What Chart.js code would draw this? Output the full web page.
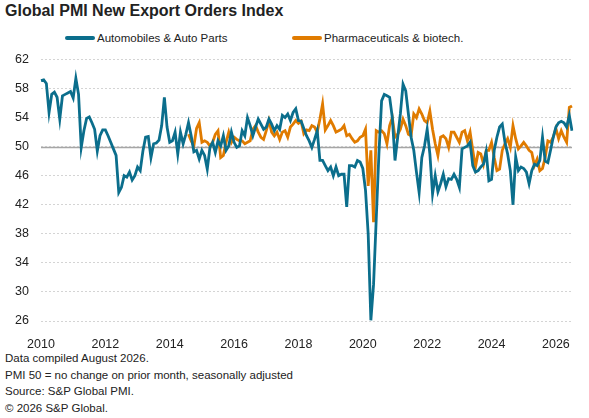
<!DOCTYPE html>
<html>
<head>
<meta charset="utf-8">
<title>Global PMI New Export Orders Index</title>
<script src="https://cdn.jsdelivr.net/npm/chart.js@4.4.1/dist/chart.umd.min.js"></script>
<style>
  body { margin: 0; width: 589px; height: 418px; background: #fff; position: relative; overflow: hidden;
         font-family: "Liberation Sans", Arial, sans-serif; color: #222; }
  #title { position: absolute; left: 5px; top: 1px; font-size: 16px; line-height: 20px; font-weight: bold; }
  .legend-item { position: absolute; top: 31px; font-size: 11.5px; line-height: 14px; display: flex; align-items: center; }
  .swatch { width: 30px; height: 4px; border-radius: 2px; margin-right: 2px; }
  #chartBox { position: absolute; left: 0; top: 40px; }
  #notes { position: absolute; left: 5px; top: 350px; font-size: 11.5px; line-height: 16.5px; }
</style>
</head>
<body>
<div id="title">Global PMI New Export Orders Index</div>
<div class="legend-item" style="left:65px"><span class="swatch" style="background:#0b6e8c"></span>Automobiles &amp; Auto Parts</div>
<div class="legend-item" style="left:292px"><span class="swatch" style="background:#e07b00"></span>Pharmaceuticals &amp; biotech.</div>
<div id="chartBox"><canvas id="pmiChart" width="589" height="310"></canvas></div>
<div id="notes">
  Data compiled August 2026.<br>
  PMI 50 = no change on prior month, seasonally adjusted<br>
  Source: S&amp;P Global PMI.<br>
  © 2026 S&amp;P Global.
</div>
<script>
// --- DATA (monthly, Jan 2010 - Jul 2026) ---
const startYear = 2010;
const tickYears = [2010, 2012, 2014, 2016, 2018, 2020, 2022, 2024, 2026];
const yTicks = [26, 30, 34, 38, 42, 46, 50, 54, 58, 62];
const noChangeLevel = 50;

const autos = [
  59.1, 59.2, 58.7, 54.7, 57.2, 57.5, 56.8, 53.8, 57.0, 57.2, 57.4, 57.6,
  56.7, 59.4, 57.2, 49.9, 52.2, 53.9, 54.1, 53.3, 52.4, 49.4, 51.5, 52.3,
  52.3, 51.5, 50.6, 49.7, 48.8, 43.7, 44.4, 46.0, 45.8, 46.5, 45.4, 46.0,
  47.2, 46.7, 49.4, 51.3, 51.4, 48.5, 50.4, 50.5, 50.9, 52.9, 56.8, 52.7,
  50.6, 50.8, 52.0, 49.0, 52.0, 50.4, 51.7, 53.3, 51.5, 49.3, 49.5, 48.3,
  49.5, 48.8, 46.9, 49.9, 50.6, 49.2, 50.8, 50.1, 51.5, 49.5, 50.1, 52.0,
  50.6, 49.9, 50.1, 52.2, 51.5, 54.0, 52.9, 51.5, 52.7, 53.8, 53.1, 52.4,
  52.7, 53.8, 53.1, 52.2, 52.9, 52.4, 54.3, 54.0, 54.5, 53.6, 54.7, 55.2,
  53.6, 53.5, 52.5, 51.5, 50.8, 49.9, 51.0, 52.2, 48.1, 48.1, 47.4, 46.7,
  47.2, 46.0, 47.2, 46.0, 46.2, 46.2, 41.7, 47.4, 47.4, 47.2, 48.1, 47.9,
  47.0, 44.0, 38.0, 26.1, 31.0, 40.0, 49.0, 56.3, 57.2, 57.0, 56.8, 54.0,
  48.1, 51.3, 54.5, 58.6, 57.7, 54.5, 51.3, 49.5, 46.5, 43.7, 48.5, 50.1,
  52.4, 49.0, 43.5, 46.0, 43.8, 44.9, 46.2, 44.5, 45.6, 45.5, 46.2, 45.5,
  44.4, 49.7, 49.9, 50.1, 50.6, 47.4, 46.5, 46.7, 47.2, 47.6, 49.3, 45.3,
  45.5, 49.5, 51.3, 52.7, 53.1, 50.6, 49.0, 46.7, 42.0, 48.6, 46.7, 47.2,
  47.0, 46.5, 44.9, 46.7, 47.6, 47.4, 48.1, 51.3, 48.0, 47.8, 49.5, 51.3,
  52.7, 53.3, 53.5, 53.3, 52.7, 54.3, 52.2
];

// pharma series starts Aug 2014
const pharmaStart = 55;
const pharma = [
  51.7, 50.8, 50.1, 52.5, 53.3,
  50.6, 50.8, 50.6, 50.1, 50.6, 51.7, 52.2, 48.5, 48.8, 50.6, 52.0, 50.6,
  51.3, 51.0, 50.8, 50.8, 50.4, 50.6, 50.8, 52.4, 52.9, 52.0, 51.3, 51.0,
  52.2, 53.6, 52.0, 51.5, 52.0, 51.0, 52.0, 52.2, 51.3, 52.7, 53.1, 53.6,
  53.2, 53.5, 51.8, 52.3, 52.2, 52.9, 52.7, 52.0, 53.8, 55.9, 52.3, 52.9,
  53.6, 52.9, 52.0, 52.2, 52.4, 52.9, 51.5, 51.7, 51.1, 50.6, 50.8, 51.3,
  51.5, 52.4, 44.6, 49.5, 39.6, 52.2, 52.0, 52.2, 51.8, 50.4, 52.9, 54.0,
  51.3, 51.7, 52.4, 53.8, 52.9, 51.7, 51.5, 54.5, 54.0, 55.2, 54.5, 53.6,
  53.3, 54.9, 52.4, 50.4, 48.8, 51.3, 51.5, 51.1, 49.9, 52.0, 52.0, 51.3,
  50.6, 52.0, 52.2, 50.8, 52.0, 49.5, 47.2, 49.2, 49.0, 47.6, 49.5, 49.5,
  50.6, 48.5, 46.7, 46.9, 49.5, 50.4, 51.1, 49.9, 52.9, 51.1, 49.7, 50.1,
  50.6, 50.1, 49.5, 49.2, 47.4, 48.3, 46.7, 47.0, 48.5, 50.8, 50.6, 51.3,
  52.5, 51.1, 52.2, 51.3, 50.6, 55.4, 55.6
];

// month labels "YYYY-MM"
const months = autos.map((_, i) => {
    const y = startYear + Math.floor(i / 12);
    const m = (i % 12) + 1;
    return y + '-' + String(m).padStart(2, '0');
});
const pharmaFull = months.map((_, i) => i >= pharmaStart ? pharma[i - pharmaStart] : null);

// solid grey line at PMI 50, under the series
const noChangeLine = {
    id: 'noChangeLine',
    beforeDatasetsDraw(chart) {
        const { ctx, chartArea, scales } = chart;
        const y = Math.round(scales.y.getPixelForValue(noChangeLevel)) + 0.5;
        ctx.save();
        ctx.strokeStyle = '#a6a6a6';
        ctx.lineWidth = 1.5;
        ctx.beginPath();
        ctx.moveTo(chartArea.left, y);
        ctx.lineTo(chartArea.right, y);
        ctx.stroke();
        ctx.restore();
    }
};

const tickFont = { family: '"Liberation Sans", Arial, sans-serif', size: 12.5 };

new Chart(document.getElementById('pmiChart'), {
    type: 'line',
    data: {
        labels: months,
        datasets: [
            { label: 'Automobiles & Auto Parts', data: autos, borderColor: '#0b6e8c', borderWidth: 2.8, pointRadius: 0, tension: 0 },
            { label: 'Pharmaceuticals & biotech.', data: pharmaFull, borderColor: '#e07b00', borderWidth: 2.8, pointRadius: 0, tension: 0, spanGaps: false }
        ]
    },
    options: {
        responsive: false,
        animation: false,
        layout: { padding: { top: 11, right: 17, left: 0, bottom: 0 } },
        plugins: { legend: { display: false }, tooltip: { enabled: false } },
        scales: {
            x: {
                offset: false,
                grid: { display: false },
                border: { display: false },
                afterFit: (scale) => { scale.height = 29; },
                ticks: {
                    autoSkip: false, maxRotation: 0, minRotation: 0, padding: 8, align: 'center',
                    color: '#222', font: tickFont,
                    callback: function (value) {
                        const lab = this.getLabelForValue(value);
                        const yr = parseInt(lab.slice(0, 4));
                        return (lab.endsWith('-01') && tickYears.includes(yr)) ? String(yr) : '';
                    }
                }
            },
            y: {
                min: yTicks[0], max: yTicks[yTicks.length - 1],
                afterFit: (scale) => { scale.width = 41; },
                afterBuildTicks: (scale) => { scale.ticks = yTicks.map(v => ({ value: v })); },
                grid: { color: '#d4d4d4', lineWidth: 1, drawTicks: false },
                border: { display: false, dash: [2, 2] },
                ticks: { color: '#222', font: tickFont, padding: 12 }
            }
        }
    },
    plugins: [noChangeLine]
});
</script>
</body>
</html>
